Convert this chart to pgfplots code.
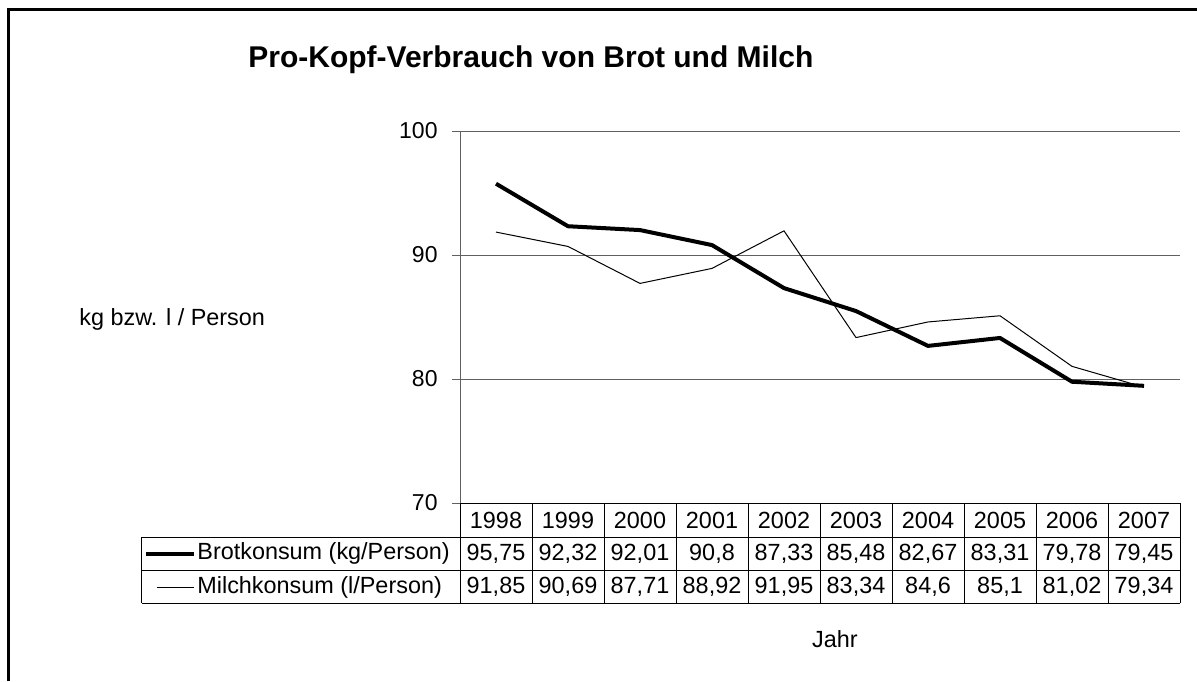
\documentclass[border=0pt]{standalone}
\usepackage{fontspec}
\setmainfont{Liberation Sans}
\usepackage{pgfplots}
\usepackage{pgfplotstable}
\pgfplotsset{compat=1.18}

\pgfplotstableread{
year brot milch
1998 95.75 91.85
1999 92.32 90.69
2000 92.01 87.71
2001 90.80 88.92
2002 87.33 91.95
2003 85.48 83.34
2004 82.67 84.60
2005 83.31 85.10
2006 79.78 81.02
2007 79.45 79.34
}\data

\begin{document}
\begin{tikzpicture}[font=\fontsize{11.7}{14}\selectfont]
\begin{axis}[
  at={(0,0)}, anchor=south west,
  scale only axis, width=360pt, height=186pt,
  xmin=1997.5, xmax=2007.5, ymin=70, ymax=100,
  ytick={70,80,90,100}, xtick=\empty,
  ymajorgrids, grid style={gray!75!black, line width=0.5pt},
  axis x line=bottom, axis y line=left,
  axis line style={-, line width=0.5pt},
  x axis line style={black},
  y axis line style={gray!75!black},
  tick align=outside, major tick length=4pt,
  tick style={gray!75!black, line width=0.5pt},
  yticklabel style={font=\fontsize{11.5}{14}\selectfont, xshift=-3.7pt},
  /pgf/number format/assume math mode=true,
  clip=false,
]
\addplot[black, line width=2pt, line join=round] table[x=year,y=brot]{\data};
\addplot[black, line width=0.5pt] table[x=year,y=milch]{\data};
\end{axis}

% pixel grid of the reference: (460,503) is the lower left corner of the axis
\begin{scope}[x=0.5pt, y=-0.5pt, shift={(-230pt,251.5pt)}]
  \useasboundingbox (0,0) rectangle (1197,681);
  \draw[line width=1.4pt] (8.5,681) -- (8.5,9.5) -- (1197,9.5);

  \node[anchor=base west, inner sep=0pt, font=\bfseries\fontsize{15}{18}\selectfont] at (248,68) {Pro-Kopf-Verbrauch von Brot und Milch};
  \node[anchor=base west, inner sep=0pt] at (79,325) {kg bzw. l / Person};
  \node at (835,639) {Jahr};

  % data table
  \foreach \k in {0,...,10} \draw[line width=0.5pt] (460+72*\k,503) -- (460+72*\k,603);
  \draw[line width=0.5pt] (142,537) -- (1180,537);
  \draw[line width=0.5pt] (142,570) -- (1180,570);
  \draw[line width=0.5pt] (142,603) -- (1180,603);
  \draw[line width=0.5pt] (142,537) -- (142,603);

  \draw[line width=2pt] (146,553.5) -- (194,553.5);
  \draw[line width=0.5pt] (157,587) -- (194,587);
  \node[anchor=west, inner sep=1pt] at (195,553.5) {Brotkonsum (kg/Person)};
  \node[anchor=west, inner sep=1pt] at (195,587) {Milchkonsum (l/Person)};

  \foreach \i in {0,...,9} {
    \pgfplotstablegetelem{\i}{year}\of\data
    \node at (496+72*\i,520) {\pgfplotsretval};
    \pgfplotstablegetelem{\i}{brot}\of\data
    \node at (496+72*\i,553.5) {\pgfmathprintnumber[use comma,precision=2,assume math mode=true]{\pgfplotsretval}};
    \pgfplotstablegetelem{\i}{milch}\of\data
    \node at (496+72*\i,587) {\pgfmathprintnumber[use comma,precision=2,assume math mode=true]{\pgfplotsretval}};
  }
\end{scope}
\end{tikzpicture}
\end{document}
